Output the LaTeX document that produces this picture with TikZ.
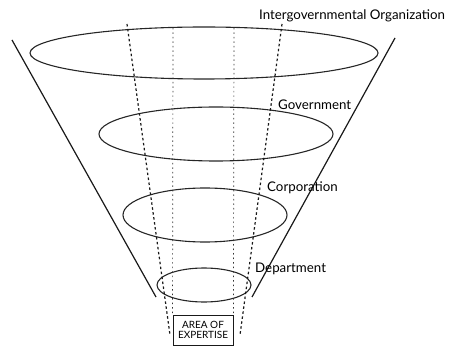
\documentclass[tikz,border=0pt]{standalone}
\usepackage{fontspec}
\setmainfont{Lato}
\usepackage{tikz}

\begin{document}
\begin{tikzpicture}[x=1pt,y=-1pt,font=\fontsize{13.3}{15}\selectfont,
 wall/.style={draw=black!90,line width=1.2pt},
 ring/.style={draw=black!85,line width=1.1pt},
 scope/.style={draw=black!90,line width=1.2pt,dash pattern=on 2.5pt off 2.5pt},
 core/.style={draw=black!80,line width=.7pt,dash pattern=on 1.5pt off 3pt},
 level/.style={anchor=west,inner sep=0pt},
 expert/.style={draw=black!90,line width=.9pt,minimum width=60pt,minimum height=30pt,
                inner sep=1pt,align=center,font=\fontsize{10}{10.5}\selectfont}]
 \useasboundingbox (0,0) rectangle (449,347);
 % funnel walls
 \coordinate (WL1) at (12,40);  \coordinate (WL2) at (156,297);
 \coordinate (WR1) at (395,38); \coordinate (WR2) at (252,297);
 \draw[wall] (WL1)--(WL2);
 \draw[wall] (WR1)--(WR2);
 % levels
 \foreach \n/\cx/\cy/\rx/\ry in {1/204/53/174/26,2/216/134/117/27,3/205/215/82/27,4/204/285/47/17}{
   \coordinate (R\n) at (\cx,\cy);
   \draw[ring] (R\n) ellipse [x radius=\rx, y radius=\ry];
 }
 \node[level] (L1) at (259,16) {Intergovernmental Organization};
 \node[level] (L2) at (278,105) {Government};
 \node[level] (L3) at (267,188) {Corporation};
 \node[level] (L4) at (255,269) {Department};
 % area of expertise
 \node[expert] (E) at (203,330) {AREA OF\\EXPERTISE};
 \coordinate (SL) at (127,24); \coordinate (SLb) at (170,335);
 \coordinate (SR) at (282,24); \coordinate (SRb) at (240,335);
 \draw[scope] (SL)--(SLb);
 \draw[scope] (SR)--(SRb);
 \coordinate (CL) at (173,28); \coordinate (CR) at (234,28);
 \draw[core] (CL)--(E.north west);
 \draw[core] (CR)--(E.north east);
\end{tikzpicture}
\end{document}
